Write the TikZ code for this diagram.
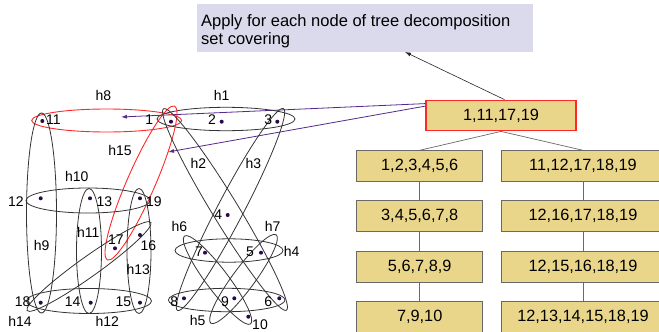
\documentclass[tikz,border=0pt]{standalone}
\usepackage{fontspec}
\setmainfont{Liberation Sans}
\usetikzlibrary{arrows.meta}
\definecolor{khaki}{RGB}{234,214,139}
\definecolor{lav}{RGB}{218,218,236}
\definecolor{boxline}{RGB}{105,105,105}
\definecolor{hred}{RGB}{255,40,40}
\definecolor{arrowpurple}{RGB}{85,40,140}
\definecolor{dotcol}{RGB}{40,10,75}
\begin{document}
\begin{tikzpicture}[x=1pt,y=-1pt,
  treebox/.style={draw=boxline, fill=khaki, line width=0.8pt, minimum width=126pt, minimum height=31pt, inner sep=0pt, font=\fontsize{16.3}{19}\selectfont},
  widebox/.style={treebox, minimum width=164pt},
  rootbox/.style={fill=khaki, draw=hred, line width=1.3pt, minimum width=150pt, minimum height=30.5pt, inner sep=0pt, font=\fontsize{16.3}{19}\selectfont},
  tlink/.style={draw=boxline, line width=0.7pt},
  hedge/.style={draw=black!80, line width=0.8pt},
  redge/.style={draw=hred, line width=0.9pt},
  vdot/.style={circle, fill=dotcol, inner sep=0pt, minimum size=4pt},
  vlabel/.style={font=\fontsize{14}{16}\selectfont, inner sep=0pt},
  pointer/.style={draw=arrowpurple, line width=0.8pt, -{Latex[length=6pt,width=4pt]}},
]
\useasboundingbox (0,0) rectangle (659,332);

% instruction box
\node[fill=lav, anchor=north west, minimum width=336pt, minimum height=48pt, inner sep=0pt] (TB) at (197,4) {};
\node[anchor=base west, inner sep=0pt, align=left, font=\fontsize{16.5}{18.5}\selectfont] (TBtext) at (201,44.5) {Apply for each node of tree decomposition\\set covering};

% tree decomposition
\node[rootbox] (R) at (501,115.5) {1,11,17,19};
\node[treebox] (L1) at (419.7,166.2) {1,2,3,4,5,6};
\node[treebox] (L2) at (419.7,216.2) {3,4,5,6,7,8};
\node[treebox] (L3) at (419.7,266.5) {5,6,7,8,9};
\node[treebox] (L4) at (419.7,316.5) {7,9,10};
\node[widebox] (R1) at (583,166.2) {11,12,17,18,19};
\node[widebox] (R2) at (583,216.2) {12,16,17,18,19};
\node[widebox] (R3) at (583,266.5) {12,15,16,18,19};
\node[widebox] (R4) at (583,316.5) {12,13,14,15,18,19};
\draw[tlink] (R.south) -- (L1.north);
\draw[tlink] (R.south) -- (R1.north);
\draw[tlink] (L1) -- (L2);
\draw[tlink] (L2) -- (L3);
\draw[tlink] (L3) -- (L4);
\draw[tlink] (R1) -- (R2);
\draw[tlink] (R2) -- (R3);
\draw[tlink] (R3) -- (R4);

% arrows
\coordinate (tip) at (405,52);
\draw[line width=0.6pt, draw=black!85, -{Latex[length=6pt,width=4pt]}] ([xshift=3.5pt]R.north) -- (tip);
\coordinate (t1) at (121,117);
\coordinate (t2) at (168,152);
\draw[pointer] ([yshift=-4pt]R.north west) -- (t1);
\draw[pointer] ([yshift=-6.5pt]R.north west) -- (t2);

% hyperedges
\draw[redge] (106.7,120.5) ellipse [x radius=75pt, y radius=11.5pt];
\draw[hedge] (226,119) ellipse [x radius=69pt, y radius=11.7pt];
\draw[redge, rotate around={66.4:(141,183)}] (141,183) ellipse [x radius=84pt, y radius=14pt];
\draw[hedge] (41.5,213) ellipse [x radius=15pt, y radius=100pt];
\draw[hedge] (88,200.5) ellipse [x radius=62pt, y radius=12.5pt];
\draw[hedge] (89,251) ellipse [x radius=12.5pt, y radius=62.5pt];
\draw[hedge] (139,251) ellipse [x radius=12pt, y radius=62.5pt];
\draw[hedge] (89,301) ellipse [x radius=62.5pt, y radius=12.5pt];
\draw[hedge, rotate around={35.5:(89,266.5)}] (89,266.5) ellipse [x radius=76pt, y radius=10pt];
\draw[hedge, rotate around={-58.6:(225,209.5)}] (225,209.5) ellipse [x radius=118pt, y radius=13pt];
\draw[hedge, rotate around={62.3:(230.5,209.5)}] (230.5,209.5) ellipse [x radius=114pt, y radius=13pt];
\draw[hedge] (229,250.5) ellipse [x radius=54pt, y radius=11.7pt];
\draw[hedge] (226.7,300) ellipse [x radius=58.3pt, y radius=11.7pt];
\draw[hedge, rotate around={-53:(217.5,280)}] (217.5,280) ellipse [x radius=55pt, y radius=11pt];
\draw[hedge, rotate around={53.5:(243.5,279)}] (243.5,279) ellipse [x radius=55pt, y radius=11pt];

% vertices
\node[vdot] (v1) at (171,121.7) {};
\node[vdot] (v2) at (221.7,121.7) {};
\node[vdot] (v3) at (277.3,121.7) {};
\node[vdot] (v4) at (227.7,215) {};
\node[vdot] (v5) at (261,252.7) {};
\node[vdot] (v6) at (279.3,298.3) {};
\node[vdot] (v7) at (205,252.7) {};
\node[vdot] (v8) at (184,298.3) {};
\node[vdot] (v9) at (234.3,298.3) {};
\node[vdot] (v10) at (248.3,316.7) {};
\node[vdot] (v11) at (42.3,121) {};
\node[vdot] (v12) at (40.7,198.3) {};
\node[vdot] (v13) at (90,198.3) {};
\node[vdot] (v14) at (90.7,302.7) {};
\node[vdot] (v15) at (140,302.7) {};
\node[vdot] (v16) at (140,235) {};
\node[vdot] (v17) at (115,248.3) {};
\node[vdot] (v18) at (40.7,302.7) {};
\node[vdot] (v19) at (140,198.3) {};

% vertex labels
\node[vlabel] (n1) at (149.3,119.3) {1};
\node[vlabel] (n2) at (212,119.3) {2};
\node[vlabel] (n3) at (268.3,119.3) {3};
\node[vlabel] (n4) at (218.3,214.3) {4};
\node[vlabel] (n5) at (250,251.7) {5};
\node[vlabel] (n6) at (268.3,301.7) {6};
\node[vlabel] (n7) at (199,251.7) {7};
\node[vlabel] (n8) at (174.3,301.7) {8};
\node[vlabel] (n9) at (225,301.7) {9};
\node[vlabel] (n10) at (260,324.5) {10};
\node[vlabel] (n11) at (53.5,120) {11};
\node[vlabel] (n12) at (16,201.7) {12};
\node[vlabel] (n13) at (104.3,201.7) {13};
\node[vlabel] (n14) at (72.7,301.7) {14};
\node[vlabel] (n15) at (123.3,301.7) {15};
\node[vlabel] (n16) at (148.3,245.7) {16};
\node[vlabel] (n17) at (116,239.3) {17};
\node[vlabel] (n18) at (22.7,301.7) {18};
\node[vlabel] (n19) at (154,201.7) {19};

% hyperedge labels
\node[vlabel] (lh1) at (221.7,95) {h1};
\node[vlabel] (lh2) at (198.3,163.3) {h2};
\node[vlabel] (lh3) at (253.3,163.3) {h3};
\node[vlabel] (lh4) at (291.7,251.7) {h4};
\node[vlabel] (lh5) at (197.7,320) {h5};
\node[vlabel] (lh6) at (179.3,226.7) {h6};
\node[vlabel] (lh7) at (272.7,226.7) {h7};
\node[vlabel] (lh8) at (103.3,95) {h8};
\node[vlabel] (lh9) at (41.7,245) {h9};
\node[vlabel] (lh10) at (76.7,176.7) {h10};
\node[vlabel] (lh11) at (88.3,232.7) {h11};
\node[vlabel] (lh12) at (107.3,321.7) {h12};
\node[vlabel] (lh13) at (138.3,269.3) {h13};
\node[vlabel] (lh14) at (20,321.7) {h14};
\node[vlabel] (lh15) at (120,150) {h15};
\end{tikzpicture}
\end{document}
